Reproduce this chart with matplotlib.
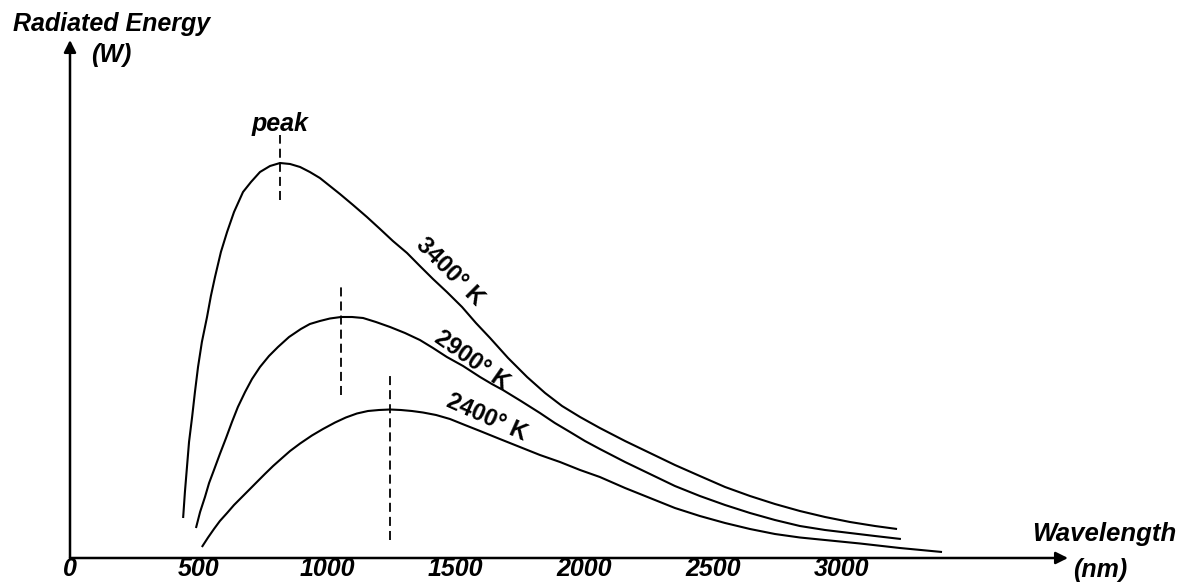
import matplotlib
matplotlib.use("Agg")
import matplotlib.pyplot as plt

# ---- data (wavelength in nm, radiated energy in arbitrary W units) ----
wl_3400 = [440, 447, 455, 463, 475, 486, 498, 513, 533, 548, 564, 587, 611, 638, 673, 704, 739,
           778, 817, 856, 895, 933, 972, 1011, 1050, 1101, 1155, 1206, 1256, 1311, 1361, 1412,
           1466, 1525, 1579, 1634, 1704, 1778, 1848, 1914, 1984, 2061, 2159, 2256, 2353, 2450,
           2548, 2645, 2742, 2839, 2937, 3034, 3131, 3217]
en_3400 = [8.0, 13.2, 18.2, 23.2, 28.2, 33.2, 38.2, 43.2, 48.2, 52.4, 56.2, 61.2, 65.2, 69.2,
           73.2, 75.2, 77.2, 78.4, 79.0, 78.8, 78.2, 77.2, 76.0, 74.4, 72.8, 70.6, 68.2, 65.8,
           63.4, 61.0, 58.4, 55.8, 53.2, 50.2, 47.0, 44.0, 40.0, 36.2, 33.0, 30.4, 28.2, 26.0,
           23.4, 21.0, 18.6, 16.4, 14.2, 12.4, 10.8, 9.4, 8.2, 7.2, 6.4, 5.8]

wl_2900 = [490, 506, 525, 541, 560, 583, 607, 630, 653, 681, 708, 739, 774, 809, 852, 898, 933,
           972, 1011, 1054, 1097, 1140, 1190, 1245, 1303, 1361, 1412, 1466, 1529, 1595, 1641,
           1684, 1754, 1828, 1886, 1945, 2003, 2061, 2159, 2256, 2353, 2450, 2548, 2645, 2742,
           2839, 2937, 3034, 3131, 3232]
en_2900 = [6.0, 9.2, 12.2, 15.0, 17.6, 20.8, 24.0, 27.2, 30.2, 33.2, 35.8, 38.2, 40.4, 42.2,
           44.2, 45.8, 46.8, 47.4, 47.9, 48.2, 48.2, 48.0, 47.2, 46.2, 45.0, 43.6, 42.0, 40.2,
           38.4, 36.2, 34.8, 33.6, 31.4, 29.0, 27.0, 25.2, 23.4, 21.8, 19.2, 16.8, 14.4, 12.4,
           10.6, 9.0, 7.6, 6.4, 5.6, 5.0, 4.4, 3.8]

wl_2400 = [513, 537, 560, 583, 611, 638, 669, 700, 727, 758, 790, 825, 856, 895, 941, 984, 1031,
           1073, 1116, 1159, 1202, 1245, 1287, 1330, 1373, 1424, 1478, 1536, 1595, 1672, 1750,
           1828, 1906, 1984, 2061, 2159, 2256, 2353, 2450, 2548, 2645, 2742, 2839, 2956, 3073,
           3228, 3392]
en_2400 = [2.2, 4.1, 5.8, 7.4, 9.0, 10.6, 12.2, 13.8, 15.2, 16.8, 18.4, 20.0, 21.4, 22.9, 24.5,
           25.8, 27.1, 28.1, 28.9, 29.4, 29.6, 29.7, 29.6, 29.4, 29.1, 28.6, 27.8, 26.6, 25.4,
           23.8, 22.2, 20.6, 19.2, 17.6, 16.2, 14.0, 12.0, 10.0, 8.4, 7.0, 5.8, 4.8, 4.1, 3.5,
           2.9, 2.0, 1.2]

curve_labels = ["3400° K", "2900° K", "2400° K"]
label_pos_wl = [1478, 1564, 1622]
label_pos_en = [57.2, 39.6, 28.0]
label_angle = [-45, -35, -24]

peak_wl = [817, 1054, 1245]
peak_top = [84.6, 54.6, 37.0]
peak_bottom = [71.6, 32.6, 3.6]

tick_values = [0, 500, 1000, 1500, 2000, 2500, 3000]
tick_labels = ["0", "500", "1000", "1500", "2000", "2500", "3000"]

x_max = 3882
y_max = 103.6

W, H = 1180, 585
fig = plt.figure(figsize=(W / 100, H / 100), dpi=100)
fig.patch.set_facecolor("white")
ax = fig.add_axes([70 / W, (H - 558) / H, 998 / W, 518 / H])
ax.set_xlim(0, x_max)
ax.set_ylim(0, y_max)
for s in ax.spines.values():
    s.set_visible(False)

font = dict(family="Liberation Sans", weight="bold", style="italic")

# curves
for wl, en in [(wl_3400, en_3400), (wl_2900, en_2900), (wl_2400, en_2400)]:
    ax.plot(wl, en, color="black", lw=1.5, solid_capstyle="butt", solid_joinstyle="round")

# peak dashed markers
for px, t, b in zip(peak_wl, peak_top, peak_bottom):
    ax.plot([px, px], [b, t], color="black", lw=1.3, linestyle=(0, (5, 2.8)))

# curve labels
for txt, xw, ye, ang in zip(curve_labels, label_pos_wl, label_pos_en, label_angle):
    ax.text(xw, ye, txt, rotation=ang, rotation_mode="anchor", ha="center", va="center",
            fontsize=17, family="Liberation Sans", weight="bold")

ax.text(peak_wl[0], 86.8, "peak", ha="center", va="center", fontsize=18, **font)

# axes with arrows
arrow = dict(arrowstyle="-|>", lw=1.8, color="black", mutation_scale=18, shrinkA=0, shrinkB=0)
ax.annotate("", xy=(1, 0), xytext=(0, 0), xycoords="axes fraction", textcoords="axes fraction",
            arrowprops=arrow)
ax.annotate("", xy=(0, 1), xytext=(0, 0), xycoords="axes fraction", textcoords="axes fraction",
            arrowprops=arrow)

ax.set_yticks([])
ax.set_xticks(tick_values)
ax.set_xticklabels(tick_labels, fontsize=18, **font)
ax.tick_params(axis="x", length=0, pad=-1)

# axis titles
fig.text(112 / W, 1 - 24 / H, "Radiated Energy", ha="center", va="center", fontsize=18, **font)
fig.text(111 / W, 1 - 55 / H, "(W)", ha="center", va="center", fontsize=18, **font)
fig.text(1032 / W, 1 - 534 / H, "Wavelength", ha="left", va="center", fontsize=18.5, **font)
fig.text(1100 / W, 1 - 570 / H, "(nm)", ha="center", va="center", fontsize=18, **font)

fig.savefig("out.png", dpi=100, facecolor="white")
